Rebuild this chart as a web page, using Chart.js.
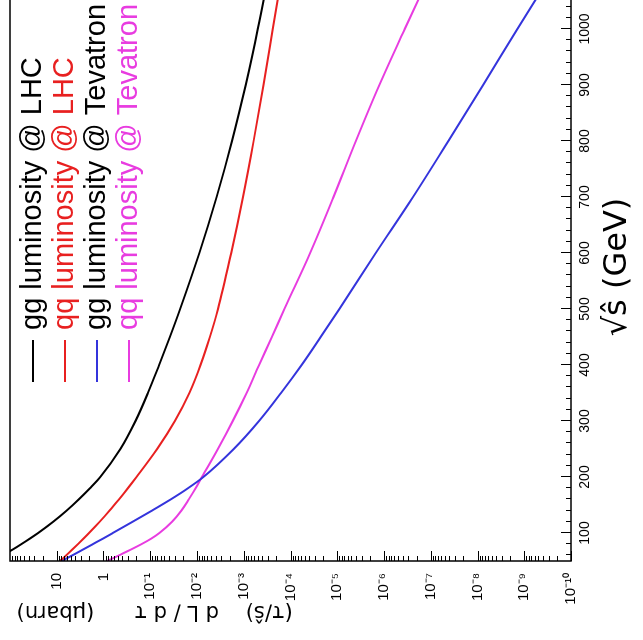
<!DOCTYPE html>
<html>
<head>
<meta charset="utf-8">
<script src="https://cdn.jsdelivr.net/npm/chart.js@4.4.1/dist/chart.umd.min.js"></script>
<style>
html, body { margin: 0; padding: 0; background: #fff; overflow: hidden; width: 643px; height: 640px; }
/* the whole ROOT plot is turned a quarter turn to the left in the picture */
#wrap { position: absolute; left: 0; top: 0; width: 700px; height: 643px;
        transform-origin: 0 0; transform: translate(0, 640px) rotate(-90deg); }
</style>
</head>
<body>
<div id="wrap"><canvas id="lumi" width="700" height="643"></canvas></div>
<script>
// sqrt(s-hat) in GeV
const sqrtS = [50, 60, 70, 80, 90, 100, 120, 140, 160, 180, 200, 250, 300, 350, 400, 450, 500, 600, 700, 800, 900, 1000, 1100];

// (tau/s) dL/dtau in microbarn
const ggLHC = [234, 145, 90, 57.5, 37.6, 25.1, 12.0, 6.17, 3.39, 1.95, 1.17, 0.436, 0.207, 0.112, 0.0646, 0.038, 0.0229, 8.9e-3, 3.8e-3, 1.78e-3, 9.1e-4, 5.0e-4, 2.9e-4];
const qqLHC = [8.5, 6.3, 4.71, 3.54, 2.68, 2.04, 1.21, 0.741, 0.468, 0.301, 0.197, 0.0714, 0.0298, 0.0146, 8.4e-3, 5.3e-3, 3.54e-3, 1.86e-3, 1.04e-3, 6.15e-4, 3.79e-4, 2.39e-4, 1.51e-4];
const ggTev = [7.8, 4.66, 2.81, 1.70, 1.03, 0.631, 0.239, 0.092, 0.0366, 0.0156, 7.3e-3, 1.64e-3, 4.72e-4, 1.6e-4, 5.8e-5, 2.26e-5, 9.0e-6, 1.5e-6, 2.4e-7, 4.2e-8, 7.6e-9, 1.4e-9, 2.5e-10];
const qqTev = [0.83, 0.47, 0.266, 0.155, 0.0955, 0.0638, 0.0343, 0.0216, 0.015, 0.0107, 7.85e-3, 3.59e-3, 1.72e-3, 8.7e-4, 4.7e-4, 2.5e-4, 1.35e-4, 3.8e-5, 1.2e-5, 4.0e-6, 1.26e-6, 3.6e-7, 1.0e-7];

const seriesLabels = ["gg luminosity @ LHC", "qq luminosity @ LHC", "gg luminosity @ Tevatron", "qq luminosity @ Tevatron"];
const lineColors = ["#000000", "#e82020", "#3434dc", "#e83ce0"];
const textColors = ["#000000", "#e82020", "#000000", "#e83ce0"];

const xTickValues = [100, 200, 300, 400, 500, 600, 700, 800, 900, 1000, 1100];
const yTickValues = [1e1, 1, 1e-1, 1e-2, 1e-3, 1e-4, 1e-5, 1e-6, 1e-7, 1e-8, 1e-9, 1e-10];
const yTickLabels = ["10", "1", "10⁻¹", "10⁻²", "10⁻³", "10⁻⁴", "10⁻⁵", "10⁻⁶", "10⁻⁷", "10⁻⁸", "10⁻⁹", "10⁻¹⁰"];

const allSeries = [ggLHC, qqLHC, ggTev, qqTev];

function points(vals) {
    return sqrtS.map((s, i) => ({ x: s, y: vals[i] }));
}

const sansFont = '"Liberation Sans", Arial, Helvetica, sans-serif';

// frame, inward ticks and legend the way ROOT draws them
const rootFrame = {
    id: "rootFrame",
    afterDatasetsDraw(chart) {
        const { ctx, chartArea: a, scales: { x, y } } = chart;
        ctx.save();
        ctx.strokeStyle = "#000";
        ctx.lineWidth = 1.5;
        ctx.strokeRect(a.left, a.top, a.right - a.left, a.bottom - a.top);

        ctx.lineWidth = 1;
        ctx.beginPath();
        for (let e = -10; e <= 1; e++) {
            for (let m = 1; m <= 9; m++) {
                const py = Math.round(y.getPixelForValue(m * Math.pow(10, e))) + 0.5;
                const len = m === 1 ? 10 : 5;
                ctx.moveTo(a.left, py);
                ctx.lineTo(a.left + len, py);
            }
        }
        for (let s = 60; s <= 1100; s += 20) {
            const px = Math.round(x.getPixelForValue(s)) + 0.5;
            const len = s % 100 === 0 ? 10 : 5;
            ctx.moveTo(px, a.bottom);
            ctx.lineTo(px, a.bottom - len);
        }
        ctx.stroke();

        // legend
        const rows = [33, 65, 97, 129];
        ctx.font = "29px " + sansFont;
        ctx.textBaseline = "middle";
        ctx.textAlign = "left";
        chart.data.datasets.forEach((ds, i) => {
            ctx.strokeStyle = ds.borderColor;
            ctx.lineWidth = 2;
            ctx.beginPath();
            ctx.moveTo(258, rows[i]);
            ctx.lineTo(300, rows[i]);
            ctx.stroke();
            ctx.fillStyle = textColors[i];
            ctx.fillText(ds.label, 310, rows[i]);
        });
        ctx.restore();
    }
};

new Chart(document.getElementById("lumi"), {
    type: "line",
    data: {
        datasets: allSeries.map((vals, i) => ({
            label: seriesLabels[i],
            data: points(vals),
            borderColor: lineColors[i],
            borderWidth: 2,
            pointRadius: 0,
            cubicInterpolationMode: "monotone",
            fill: false
        }))
    },
    options: {
        responsive: false,
        animation: false,
        devicePixelRatio: 1,
        layout: { padding: { top: 10, right: 33, left: 0, bottom: 0 } },
        plugins: { legend: { display: false }, tooltip: { enabled: false } },
        scales: {
            x: {
                type: "linear",
                min: 50,
                max: 1100,
                afterFit(scale) { scale.height = 72; scale.paddingLeft = 0; scale.paddingRight = 0; },
                afterBuildTicks(scale) { scale.ticks = xTickValues.map(v => ({ value: v })); },
                grid: { display: false, drawTicks: false },
                border: { display: false },
                ticks: {
                    autoSkip: false, maxRotation: 0, minRotation: 0, padding: 6,
                    color: "#000", font: { family: sansFont, size: 14 },
                    callback: (v) => String(v)
                },
                title: {
                    display: true, text: "√ŝ (GeV)", align: "center",
                    color: "#000", font: { family: '"DejaVu Sans", sans-serif', size: 32 },
                    padding: { top: 0, bottom: 6 }
                }
            },
            y: {
                type: "logarithmic",
                min: 1e-10,
                max: 100,
                afterFit(scale) { scale.width = 79; scale.paddingTop = 0; scale.paddingBottom = 0; },
                afterBuildTicks(scale) { scale.ticks = yTickValues.map(v => ({ value: v })); },
                grid: { display: false, drawTicks: false },
                border: { display: false },
                ticks: {
                    autoSkip: false, padding: 12,
                    color: "#000", font: { family: sansFont, size: 15 },
                    callback: (v, i) => yTickLabels[i]
                },
                title: {
                    display: true, text: "(τ/ŝ)    d L / d τ      (μbarn) ", align: "end",
                    color: "#000", font: { family: '"DejaVu Sans", sans-serif', size: 21 },
                    padding: { top: 16, bottom: 0 }
                }
            }
        }
    },
    plugins: [rootFrame]
});
</script>
</body>
</html>
